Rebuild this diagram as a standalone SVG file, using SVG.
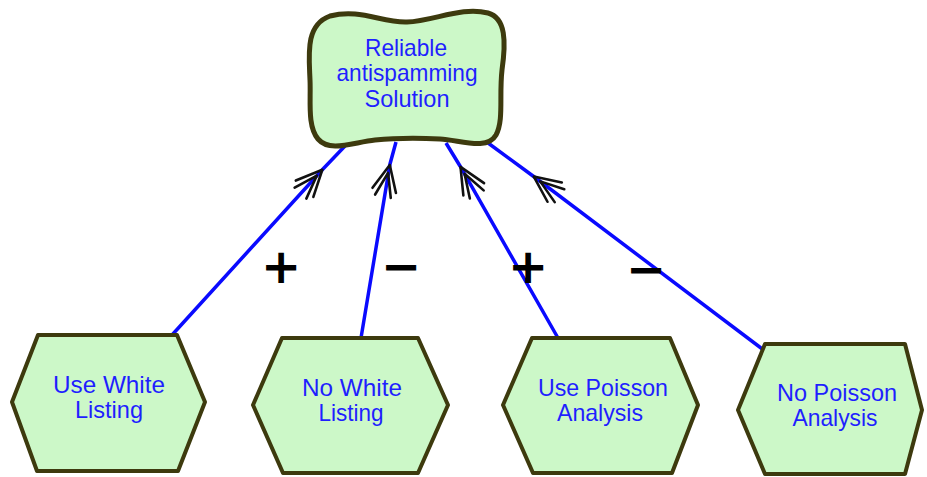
<svg xmlns="http://www.w3.org/2000/svg" width="927" height="477" viewBox="0 0 927 477">
  <defs>
    <style>
      .goal, .task { fill: #ccf8c8; stroke: #3d3a0e; stroke-width: 4; stroke-linejoin: round; }
      .goal { stroke-width: 5; }
      .label { font-family: "Liberation Sans", Arial, sans-serif; font-size: 24px; fill: #1f1fff; text-anchor: middle; }
      .link { fill: none; stroke: #0a0aff; stroke-width: 3.5; marker-mid: url(#contrib); }
      .sign { font-family: "DejaVu Sans", sans-serif; font-weight: bold; font-size: 48px; fill: #000; text-anchor: middle; }
    </style>
    <!-- sketchy double-chevron arrowhead placed part way along each contribution link -->
    <marker id="contrib" markerUnits="userSpaceOnUse" orient="auto" viewBox="-40 -20 45 40" markerWidth="45" markerHeight="40" refX="0" refY="0" overflow="visible">
      <g fill="none" stroke="#111" stroke-width="2.6" stroke-linecap="round" stroke-linejoin="round">
        <path d="M -27,-12 L -1,0 L -27,12"/>
        <path d="M -33,-8 L -9,0 L -33,8"/>
      </g>
    </marker>
  </defs>

  <g id="connectors">
    <path class="link" d="M 172,335 L 323,169 L 345,146"/>
    <path class="link" d="M 361,338 L 390,164 L 396,142"/>
    <path class="link" d="M 558,338 L 460,166 L 446,143"/>
    <path class="link" d="M 765,351 L 533,176 L 484,140"/>
  </g>

  <g id="signs">
    <text class="sign" x="281" y="283">+</text>
    <text class="sign" x="401" y="283">−</text>
    <text class="sign" x="528" y="283">+</text>
    <text class="sign" x="646" y="286">−</text>
  </g>

  <g id="goal-reliable-antispamming">
    <path class="goal" d="M 330,16 C 360,8 382,23 407,22 C 434,21 462,6 488,13 C 506,18 506,42 502,70 C 499,96 504,120 496,135 C 487,151 460,140 440,139 C 418,138 396,138 375,140 C 354,142 330,153 318,139 C 307,126 311,100 310,80 C 309,55 305,25 330,16 Z"/>
    <text class="label" x="406" y="56" textLength="82" lengthAdjust="spacingAndGlyphs">Reliable</text>
    <text class="label" x="407" y="81" textLength="141" lengthAdjust="spacingAndGlyphs">antispamming</text>
    <text class="label" x="407" y="107" textLength="85" lengthAdjust="spacingAndGlyphs">Solution</text>
  </g>

  <g id="task-use-white-listing">
    <polygon class="task" points="12,402 38,335 177,335 205,402 178,471 37,471"/>
    <text class="label" x="109" y="393" textLength="112" lengthAdjust="spacingAndGlyphs">Use White</text>
    <text class="label" x="109" y="418" textLength="68" lengthAdjust="spacingAndGlyphs">Listing</text>
  </g>

  <g id="task-no-white-listing">
    <polygon class="task" points="253,405 282,338 418,338 448,405 418,473 283,473"/>
    <text class="label" x="352" y="396" textLength="100" lengthAdjust="spacingAndGlyphs">No White</text>
    <text class="label" x="351" y="421" textLength="65" lengthAdjust="spacingAndGlyphs">Listing</text>
  </g>

  <g id="task-use-poisson-analysis">
    <polygon class="task" points="503,405 532,338 670,338 698,405 672,473 533,473"/>
    <text class="label" x="603" y="396" textLength="130" lengthAdjust="spacingAndGlyphs">Use Poisson</text>
    <text class="label" x="600" y="421" textLength="86" lengthAdjust="spacingAndGlyphs">Analysis</text>
  </g>

  <g id="task-no-poisson-analysis">
    <polygon class="task" points="738,410 765,344 905,344 922,410 905,474 765,474"/>
    <text class="label" x="837" y="401" textLength="120" lengthAdjust="spacingAndGlyphs">No Poisson</text>
    <text class="label" x="835" y="426" textLength="85" lengthAdjust="spacingAndGlyphs">Analysis</text>
  </g>
</svg>
